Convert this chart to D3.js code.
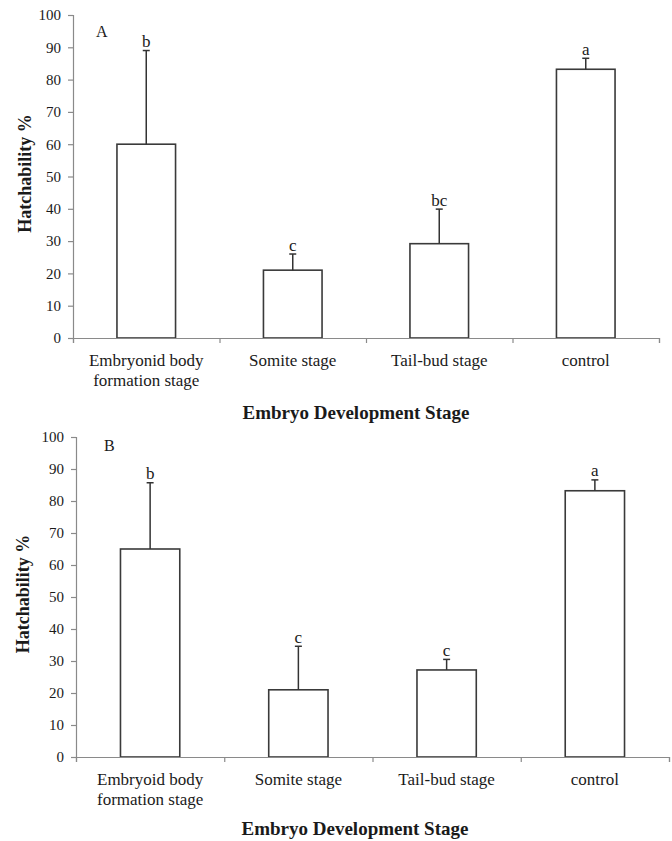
<!DOCTYPE html>
<html>
<head>
<meta charset="utf-8">
<script src="https://cdn.jsdelivr.net/npm/d3@7"></script>
<style>
  html, body { margin: 0; padding: 0; background: #fff; }
  svg { display: block; }
  text { font-family: "Liberation Serif", "Times New Roman", serif; fill: #1a1a1a; }
</style>
</head>
<body>
<svg id="chart" width="672" height="841"></svg>
<script>
// ---- data ----
const categoriesA = [["Embryonid body", "formation stage"], ["Somite stage"], ["Tail-bud stage"], ["control"]];
const categoriesB = [["Embryoid body", "formation stage"], ["Somite stage"], ["Tail-bud stage"], ["control"]];
const meansA = [60, 21, 29.2, 83.2];
const errorsA = [29, 5, 10.7, 3.4];
const lettersA = ["b", "c", "bc", "a"];
const meansB = [65, 21, 27.2, 83.2];
const errorsB = [20.7, 13.6, 3.3, 3.4];
const lettersB = ["b", "c", "c", "a"];
const yTicks = [0, 10, 20, 30, 40, 50, 60, 70, 80, 90, 100];
const panelLabels = ["A", "B"];
const yTitle = "Hatchability %";
const xTitle = "Embryo Development Stage";

const svg = d3.select("#chart");

function drawPanel(opt) {
  const { cats, means, errs, letters, left, right, top, bottom, panelLabel, labelPos, xTitleX, xTitleY, yTitleX } = opt;
  const g = svg.append("g");
  const idx = cats.map((d, i) => i);

  const y = d3.scaleLinear().domain([0, 100]).range([bottom, top]);
  const x = d3.scaleBand().domain(idx).range([left, right]).paddingInner(0.6).paddingOuter(0.3);
  const xb = d3.scaleLinear().domain([0, cats.length]).range([left, right]);

  // y axis
  const ya = g.append("g").attr("transform", `translate(${left},0)`)
    .call(d3.axisLeft(y).tickValues(yTicks).tickSize(5).tickPadding(7).tickFormat(d3.format("d")));
  ya.select(".domain").attr("stroke", "#8a8a8a").attr("stroke-width", 1.2);
  ya.selectAll(".tick line").attr("stroke", "#8a8a8a").attr("stroke-width", 1.2);
  ya.selectAll(".tick text").style("font-family", "'Liberation Serif', serif").style("font-size", "15px").attr("fill", "#222");

  // bars
  g.selectAll("rect.bar").data(means).join("rect")
    .attr("class", "bar")
    .attr("x", (d, i) => x(i))
    .attr("y", d => y(d))
    .attr("width", x.bandwidth())
    .attr("height", d => y(0) - y(d))
    .attr("fill", "#fff")
    .attr("stroke", "#3a3a3a")
    .attr("stroke-width", 1.6);

  // error bars
  const cx = i => x(i) + x.bandwidth() / 2;
  g.selectAll("line.err").data(means).join("line")
    .attr("class", "err")
    .attr("x1", (d, i) => cx(i)).attr("x2", (d, i) => cx(i))
    .attr("y1", d => y(d)).attr("y2", (d, i) => y(d + errs[i]))
    .attr("stroke", "#333").attr("stroke-width", 1.5);
  g.selectAll("line.cap").data(means).join("line")
    .attr("class", "cap")
    .attr("x1", (d, i) => cx(i) - 3.5).attr("x2", (d, i) => cx(i) + 3.5)
    .attr("y1", (d, i) => y(d + errs[i])).attr("y2", (d, i) => y(d + errs[i]))
    .attr("stroke", "#333").attr("stroke-width", 1.5);

  // significance letters
  g.selectAll("text.sig").data(letters).join("text")
    .attr("class", "sig")
    .attr("x", (d, i) => cx(i))
    .attr("y", (d, i) => y(means[i] + errs[i]) - 3.5)
    .attr("text-anchor", "middle")
    .style("font-size", "17px")
    .text(d => d);

  // x axis (ticks at category boundaries)
  const xa = g.append("g").attr("transform", `translate(0,${bottom})`)
    .call(d3.axisBottom(xb).tickValues(d3.range(cats.length + 1)).tickSize(5).tickFormat(""));
  xa.select(".domain").attr("stroke", "#8a8a8a").attr("stroke-width", 1.2);
  xa.selectAll(".tick line").attr("stroke", "#8a8a8a").attr("stroke-width", 1.2);

  // category labels (one text per line)
  cats.forEach((lines, i) => {
    lines.forEach((line, j) => {
      g.append("text")
        .attr("class", "cat")
        .attr("x", cx(i))
        .attr("y", bottom + 28 + j * 19.5)
        .attr("text-anchor", "middle")
        .style("font-size", "17px")
        .text(line);
    });
  });

  // panel label
  g.append("text").attr("x", labelPos[0]).attr("y", labelPos[1])
    .style("font-size", "16px").text(panelLabel);

  // axis titles
  g.append("text").attr("x", xTitleX).attr("y", xTitleY)
    .attr("text-anchor", "middle").style("font-size", "19px").style("font-weight", "bold")
    .text(xTitle);
  g.append("text")
    .attr("transform", `translate(${yTitleX},${(top + bottom) / 2 - 3}) rotate(-90)`)
    .attr("text-anchor", "middle").style("font-size", "18px").style("font-weight", "bold")
    .text(yTitle);
}

drawPanel({
  cats: categoriesA, means: meansA, errs: errorsA, letters: lettersA,
  left: 73, right: 659, top: 15, bottom: 338,
  panelLabel: panelLabels[0], labelPos: [96, 37],
  xTitleX: 356, xTitleY: 419, yTitleX: 31
});
drawPanel({
  cats: categoriesB, means: meansB, errs: errorsB, letters: lettersB,
  left: 76, right: 669, top: 437, bottom: 757,
  panelLabel: panelLabels[1], labelPos: [104, 451],
  xTitleX: 355, xTitleY: 835, yTitleX: 29
});
</script>
</body>
</html>
